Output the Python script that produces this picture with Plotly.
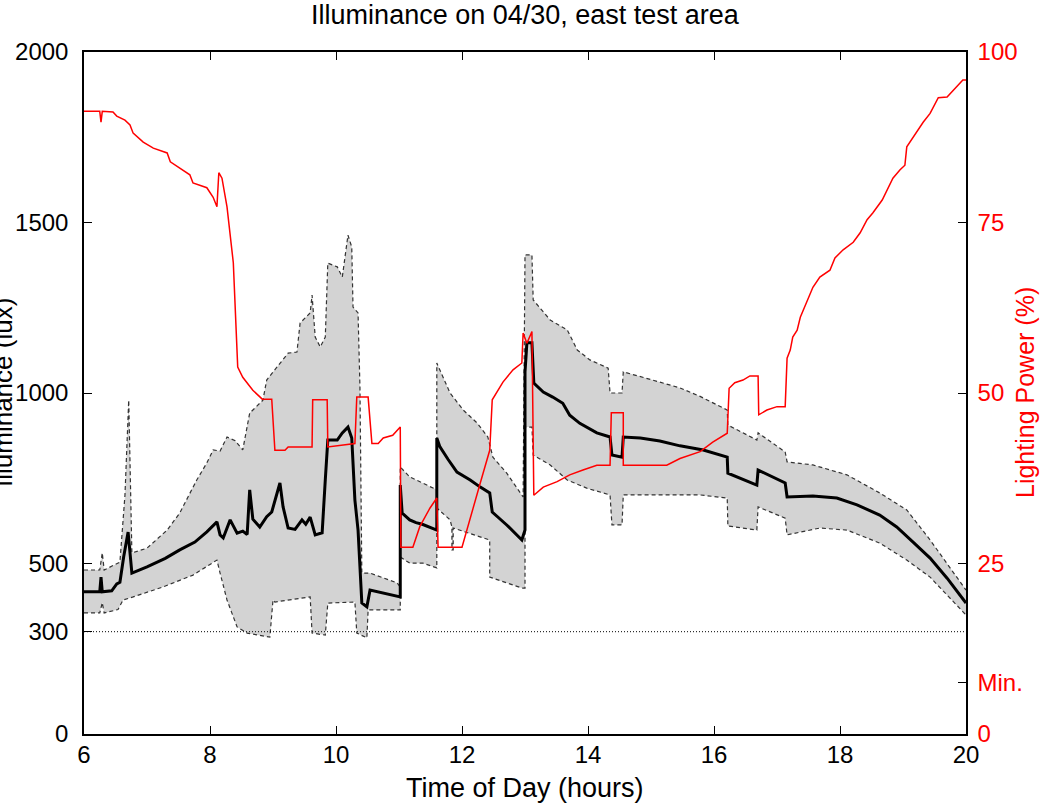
import plotly.graph_objects as go

# Illuminance band (upper / lower, lux) and mean, time in hours
upper_t = [6.00, 6.25, 6.29, 6.32, 6.57, 6.65, 6.71, 6.76, 7.00, 7.32, 7.52, 7.79, 7.95, 8.05, 8.16, 8.27,
           8.40, 8.52, 8.63, 8.84, 8.90, 9.11, 9.24, 9.38, 9.43, 9.59, 9.62, 9.67, 9.75, 9.83, 9.87, 10.02,
           10.10, 10.19, 10.25, 10.27, 10.35, 10.38, 10.41, 10.54, 10.97, 11.02, 11.02, 11.17, 11.38, 11.60,
           11.60, 11.81, 12.02, 12.24, 12.41, 12.49, 12.71, 12.97, 13.00, 13.11, 13.13, 13.40, 13.67, 13.83,
           14.03, 14.32, 14.35, 14.54, 14.56, 14.83, 15.14, 15.46, 15.78, 16.21, 16.22, 16.68, 16.70, 17.13,
           17.16, 17.57, 18.11, 18.63, 19.06, 19.43, 19.86, 20.00]
upper_lux = [481, 481, 531, 481, 504, 700, 979, 531, 545, 598, 648, 745, 795, 833, 830, 871,
             860, 833, 941, 979, 1038, 1088, 1117, 1120, 1205, 1235, 1287, 1164, 1135, 1164, 1381, 1370,
             1340, 1463, 1428, 1252, 1235, 1018, 472, 472, 443, 431, 783, 754, 736, 716,
             1088, 1000, 950, 912, 871, 812, 765, 695, 1405, 1405, 1273, 1214, 1185, 1126,
             1097, 1073, 1000, 1000, 1062, 1047, 1032, 1015, 990, 950, 906, 862, 883, 827,
             798, 789, 760, 707, 657, 569, 460, 422]

lower_t = [6.00, 6.25, 6.29, 6.32, 6.54, 6.62, 6.78, 7.25, 7.73, 8.11, 8.16, 8.27, 8.43, 8.59, 8.95, 9.00,
           9.03, 9.59, 9.62, 9.83, 9.87, 10.30, 10.33, 10.49, 10.51, 10.54, 11.02, 11.02, 11.17, 11.38,
           11.60, 11.60, 11.81, 11.84, 11.84, 11.86, 11.86, 12.44, 12.44, 12.95, 13.00, 13.00, 13.11, 13.13,
           13.40, 13.67, 13.98, 14.35, 14.38, 14.54, 14.56, 15.78, 16.21, 16.22, 16.68, 16.70, 17.13, 17.16,
           17.68, 18.11, 18.63, 19.06, 19.43, 20.00]
lower_lux = [355, 355, 385, 355, 365, 393, 402, 431, 466, 510, 472, 393, 314, 296, 284, 393,
             387, 402, 296, 290, 384, 387, 296, 282, 364, 364, 364, 519, 501, 501,
             487, 663, 628, 607, 540, 540, 604, 569, 460, 428, 428, 900, 900, 818,
             789, 745, 721, 701, 613, 613, 701, 701, 692, 610, 598, 666, 633, 584,
             604, 598, 560, 510, 460, 349]

mean_t = [6.00, 6.25, 6.27, 6.29, 6.44, 6.52, 6.57, 6.63, 6.70, 6.76, 7.00, 7.29, 7.52, 7.76, 7.95, 8.11,
          8.16, 8.21, 8.32, 8.43, 8.52, 8.59, 8.63, 8.68, 8.79, 8.90, 8.98, 9.06, 9.11, 9.16, 9.24, 9.35,
          9.46, 9.52, 9.59, 9.67, 9.78, 9.83, 9.87, 10.02, 10.10, 10.19, 10.25, 10.30, 10.35, 10.41, 10.49,
          10.54, 10.78, 11.02, 11.02, 11.05, 11.17, 11.27, 11.37, 11.60, 11.60, 11.65, 11.78, 11.92, 12.13,
          12.29, 12.44, 12.48, 12.71, 12.95, 13.00, 13.00, 13.03, 13.11, 13.14, 13.29, 13.44, 13.60, 13.71,
          13.87, 14.14, 14.35, 14.38, 14.54, 14.56, 14.83, 15.14, 15.46, 15.83, 16.21, 16.22, 16.68, 16.70,
          17.13, 17.16, 17.57, 17.95, 18.27, 18.63, 18.90, 19.16, 19.43, 19.70, 20.00]
mean_lux = [417, 417, 460, 417, 420, 440, 445, 520, 592, 472, 490, 515, 540, 563, 593, 622,
            584, 575, 628, 589, 595, 585, 716, 630, 607, 637, 651, 700, 736, 666, 604, 600,
            628, 615, 636, 584, 590, 745, 862, 862, 883, 900, 868, 686, 598, 384, 373,
            422, 412, 402, 730, 648, 628, 620, 615, 598, 868, 842, 805, 768, 745,
            724, 707, 651, 613, 569, 598, 1062, 1147, 1147, 1029, 1003, 988, 970, 935,
            911, 883, 871, 818, 812, 871, 868, 859, 845, 833, 812, 765, 730, 774,
            736, 695, 698, 692, 672, 642, 607, 563, 516, 457, 384]

# Lighting power (%)
power_t = [6.00, 6.25, 6.27, 6.29, 6.46, 6.52, 6.65, 6.73, 6.78, 6.94, 7.10, 7.32, 7.37, 7.52, 7.68, 7.73,
           7.95, 8.05, 8.11, 8.14, 8.19, 8.27, 8.37, 8.44, 8.52, 8.68, 8.83, 8.98, 9.03, 9.19, 9.24, 9.62,
           9.63, 9.86, 9.87, 10.30, 10.33, 10.51, 10.57, 10.67, 10.75, 10.90, 11.02, 11.03, 11.22, 11.33,
           11.49, 11.60, 11.62, 12.00, 12.13, 12.29, 12.44, 12.48, 12.65, 12.81, 12.95, 12.97, 13.03, 13.11,
           13.14, 13.29, 13.51, 13.71, 13.92, 14.14, 14.35, 14.37, 14.56, 14.56, 15.25, 15.46, 15.78, 15.98,
           16.21, 16.24, 16.33, 16.46, 16.57, 16.70, 16.71, 16.84, 17.00, 17.13, 17.16, 17.21, 17.25, 17.32,
           17.37, 17.48, 17.57, 17.68, 17.84, 17.92, 18.05, 18.21, 18.32, 18.43, 18.52, 18.67, 18.75, 18.84,
           18.95, 19.03, 19.06, 19.16, 19.32, 19.43, 19.56, 19.70, 19.86, 19.95, 20.00]
power_pct = [91.3, 91.3, 89.7, 91.3, 91.2, 90.6, 90.0, 89.3, 88.1, 86.8, 85.9, 85.2, 83.9, 83.0, 82.0, 80.8,
             80.1, 78.7, 77.3, 82.3, 81.5, 77.3, 69.1, 53.8, 52.3, 50.4, 49.1, 49.1, 41.6, 41.6, 42.1, 42.1,
             49.0, 49.0, 42.1, 42.6, 49.4, 49.4, 42.6, 42.6, 43.4, 43.8, 45.0, 27.4, 27.4, 30.4,
             33.1, 34.6, 27.4, 27.4, 31.8, 36.8, 41.6, 49.0, 51.6, 53.4, 54.4, 58.8, 57.3, 59.0,
             35.0, 36.2, 37.0, 38.0, 38.7, 39.4, 39.4, 47.1, 47.1, 39.4, 39.4, 40.4, 41.4, 42.8,
             44.1, 50.7, 51.5, 51.9, 52.5, 52.5, 46.8, 47.5, 48.0, 48.0, 55.1, 56.3, 58.2, 59.2,
             61.1, 63.6, 65.5, 67.0, 68.0, 69.8, 71.0, 72.1, 73.5, 75.4, 76.4, 78.3, 79.8, 81.5,
             82.7, 83.4, 86.1, 87.5, 89.7, 91.0, 93.3, 93.4, 94.9, 95.9, 95.9]

min_lux = 300
min_power = 7.5

x_ticks = [6, 8, 10, 12, 14, 16, 18, 20]
lux_ticks = [0, 300, 500, 1000, 1500, 2000]
pct_ticks = [0, min_power, 25, 50, 75, 100]
pct_labels = ['0', 'Min.', '25', '50', '75', '100']

FONT = 'Liberation Sans, Arial, sans-serif'

fig = go.Figure()

# gray min/max band
fig.add_trace(go.Scatter(
    x=upper_t + lower_t[::-1], y=upper_lux + lower_lux[::-1],
    fill='toself', fillcolor='rgb(211,211,211)', line_width=0,
    mode='lines', hoverinfo='skip', showlegend=False))
for xs, ys in [(upper_t, upper_lux), (lower_t, lower_lux)]:
    fig.add_trace(go.Scatter(x=xs, y=ys, mode='lines', showlegend=False,
                             line=dict(color='#333333', width=1.2, dash='4px,3px')))
fig.add_trace(go.Scatter(x=mean_t, y=mean_lux, mode='lines', showlegend=False,
                         line=dict(color='black', width=3)))
fig.add_hline(y=min_lux, line=dict(color='black', width=1, dash='1px,2px'))

fig.add_trace(go.Scatter(x=power_t, y=power_pct, mode='lines', yaxis='y2', showlegend=False,
                         line=dict(color='red', width=1.5)))

axis_common = dict(showline=True, linecolor='black', linewidth=1.5, ticks='inside',
                   ticklen=8, tickcolor='black', showgrid=False, zeroline=False,
                   automargin=False)

fig.update_layout(
    width=1040, height=808,
    margin=dict(l=84, r=74, t=52, b=74),
    paper_bgcolor='white', plot_bgcolor='white',
    font=dict(family=FONT, size=24, color='black'),
    title=dict(text='Illuminance on 04/30, east test area', x=0.5, xref='paper', xanchor='center',
               y=1 - 15 / 808, yref='container', yanchor='middle', font=dict(size=27)),
    xaxis=dict(range=[6, 20], tickvals=x_ticks, mirror='ticks', ticklabelstandoff=-2,
               **axis_common),
    yaxis=dict(range=[0, 2000], tickvals=lux_ticks, ticklabelstandoff=9, **axis_common),
    yaxis2=dict(range=[0, 100], tickvals=pct_ticks, ticktext=pct_labels, overlaying='y',
                side='right', ticklabelstandoff=5, tickfont=dict(color='red'), **axis_common),
    annotations=[
        dict(text='Time of Day (hours)', xref='paper', yref='paper', x=0.5, y=0,
             xanchor='center', yanchor='middle', yshift=-54, showarrow=False,
             font=dict(size=27)),
        dict(text='Illuminance (lux)', textangle=-90, xref='paper', yref='paper',
             x=0, y=0.5, xanchor='center', yanchor='middle', xshift=-81,
             showarrow=False, font=dict(size=26)),
        dict(text='Lighting Power (%)', textangle=-90, xref='paper', yref='paper',
             x=1, y=0.5, xanchor='center', yanchor='middle', xshift=59,
             showarrow=False, font=dict(size=25, color='red')),
    ],
)

# drop the default page margin so the figure sits at the window's corner
fig.write_html('out.html', config={'displayModeBar': False},
               post_script="document.body.style.margin = '0';")
